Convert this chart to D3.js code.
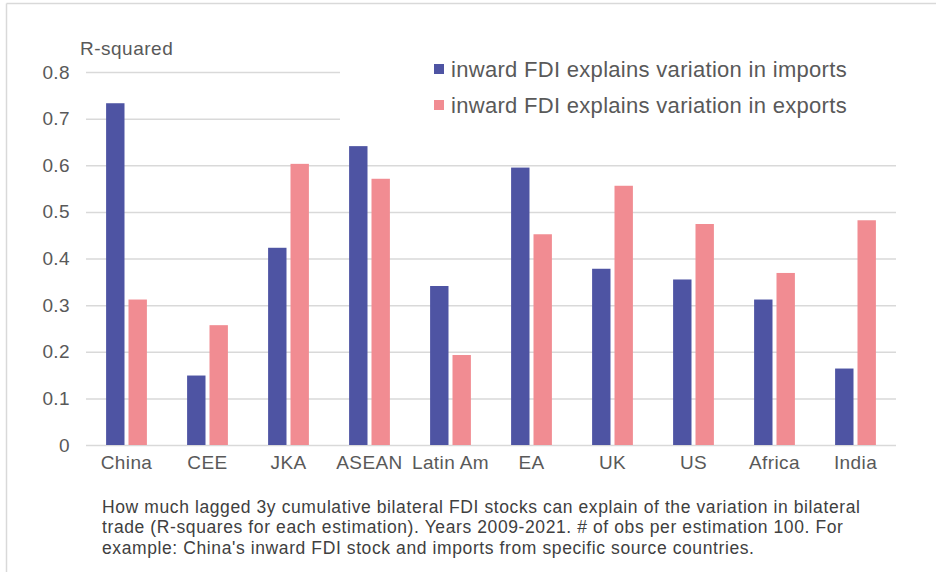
<!DOCTYPE html>
<html>
<head>
<meta charset="utf-8">
<script src="https://cdn.jsdelivr.net/npm/d3@7"></script>
<style>
  html, body { margin: 0; padding: 0; background: #fff; }
  svg { display: block; font-family: "Liberation Sans", Arial, sans-serif; }
</style>
</head>
<body>
<svg id="chart" width="936" height="572"></svg>
<script>
// Regions and their R-squared values from each estimation
const categories = ["China", "CEE", "JKA", "ASEAN", "Latin Am", "EA", "UK", "US", "Africa", "India"];
const importsR2 = [0.733, 0.149, 0.423, 0.641, 0.341, 0.595, 0.378, 0.355, 0.312, 0.164];
const exportsR2 = [0.312, 0.257, 0.603, 0.571, 0.193, 0.452, 0.556, 0.474, 0.369, 0.482];
const yTicks = [0, 0.1, 0.2, 0.3, 0.4, 0.5, 0.6, 0.7, 0.8];
const seriesNames = [
  "inward FDI explains variation in imports",
  "inward FDI explains variation in exports"
];
const axisTitle = "R-squared";
const captionLines = [
  "How much lagged 3y cumulative bilateral FDI stocks can explain of the variation in bilateral",
  "trade (R-squares for each estimation). Years 2009-2021. # of obs per estimation 100. For",
  "example: China's inward FDI stock and imports from specific source countries."
];

const colors = ["#4e54a3", "#f18c92"];
const svg = d3.select("#chart");

// Panel frame (top and left edges)
svg.append("line").attr("x1", 6.5).attr("x2", 936).attr("y1", 3.5).attr("y2", 3.5)
  .attr("stroke", "#d9d9d9").attr("stroke-width", 1.5);
svg.append("line").attr("x1", 6.5).attr("x2", 6.5).attr("y1", 3.5).attr("y2", 572)
  .attr("stroke", "#d9d9d9").attr("stroke-width", 1.5);

const plot = { left: 86, right: 896, top: 72, bottom: 445 };

const x = d3.scaleBand().domain(categories).range([plot.left, plot.right]).paddingInner(0).paddingOuter(0);
const y = d3.scaleLinear().domain([0, 0.8]).range([plot.bottom, plot.top]);

// Gridlines
const grid = svg.append("g")
  .attr("transform", `translate(${plot.left},0)`)
  .call(d3.axisLeft(y).tickValues(yTicks).tickSize(-(plot.right - plot.left)).tickFormat(""));
grid.select(".domain").remove();
grid.selectAll(".tick line").attr("stroke", "#d9d9d9").attr("stroke-width", 1.5);

// Y tick labels
const yAxis = svg.append("g")
  .attr("transform", `translate(${plot.left},0)`)
  .call(d3.axisLeft(y).tickValues(yTicks).tickSize(0).tickPadding(16).tickFormat(d => d === 0 ? "0" : d3.format(".1f")(d)));
yAxis.select(".domain").remove();
yAxis.selectAll("text").attr("fill", "#595959").attr("font-size", 19)
  .attr("letter-spacing", 0.4)
  .attr("font-family", "'Liberation Sans', Arial, sans-serif");

// Legend panel sits over the top gridlines
svg.append("rect").attr("x", 340).attr("y", 48).attr("width", 556).attr("height", 92).attr("fill", "#fff");

// Bars
const barW = 18.4, barGap = 4;
const series = [importsR2, exportsR2];
series.forEach((vals, si) => {
  svg.append("g").selectAll("rect")
    .data(categories.map((c, i) => ({ c, v: vals[i] })))
    .join("rect")
    .attr("x", d => x(d.c) + x.bandwidth() / 2 + (si === 0 ? -(barW + barGap / 2) : barGap / 2))
    .attr("y", d => y(d.v))
    .attr("width", barW)
    .attr("height", d => y(0) - y(d.v))
    .attr("fill", colors[si]);
});

// Category labels
const xAxis = svg.append("g")
  .attr("transform", `translate(0,${plot.bottom})`)
  .call(d3.axisBottom(x).tickSize(0).tickPadding(11));
xAxis.select(".domain").remove();
xAxis.selectAll("text").attr("fill", "#595959").attr("font-size", 19)
  .attr("letter-spacing", 0.4)
  .attr("font-family", "'Liberation Sans', Arial, sans-serif");

// Axis title
svg.append("text").attr("x", 80).attr("y", 55).text(axisTitle)
  .attr("fill", "#595959").attr("font-size", 19).attr("letter-spacing", 0.5);

// Legend
const legend = svg.append("g");
seriesNames.forEach((name, i) => {
  const ly = 69 + i * 36;
  legend.append("rect").attr("x", 434).attr("y", ly - 5).attr("width", 10).attr("height", 10).attr("fill", colors[i]);
  legend.append("text").attr("x", 451).attr("y", ly + 7.5).text(name)
    .attr("fill", "#595959").attr("font-size", 22).attr("letter-spacing", 0.3);
});

// Caption
svg.append("g").selectAll("text")
  .data(captionLines)
  .join("text")
  .attr("x", 102)
  .attr("y", (d, i) => 512.5 + i * 20.8)
  .text(d => d)
  .attr("fill", "#404040")
  .attr("font-size", 17.5)
  .attr("letter-spacing", 0.6);
</script>
</body>
</html>
